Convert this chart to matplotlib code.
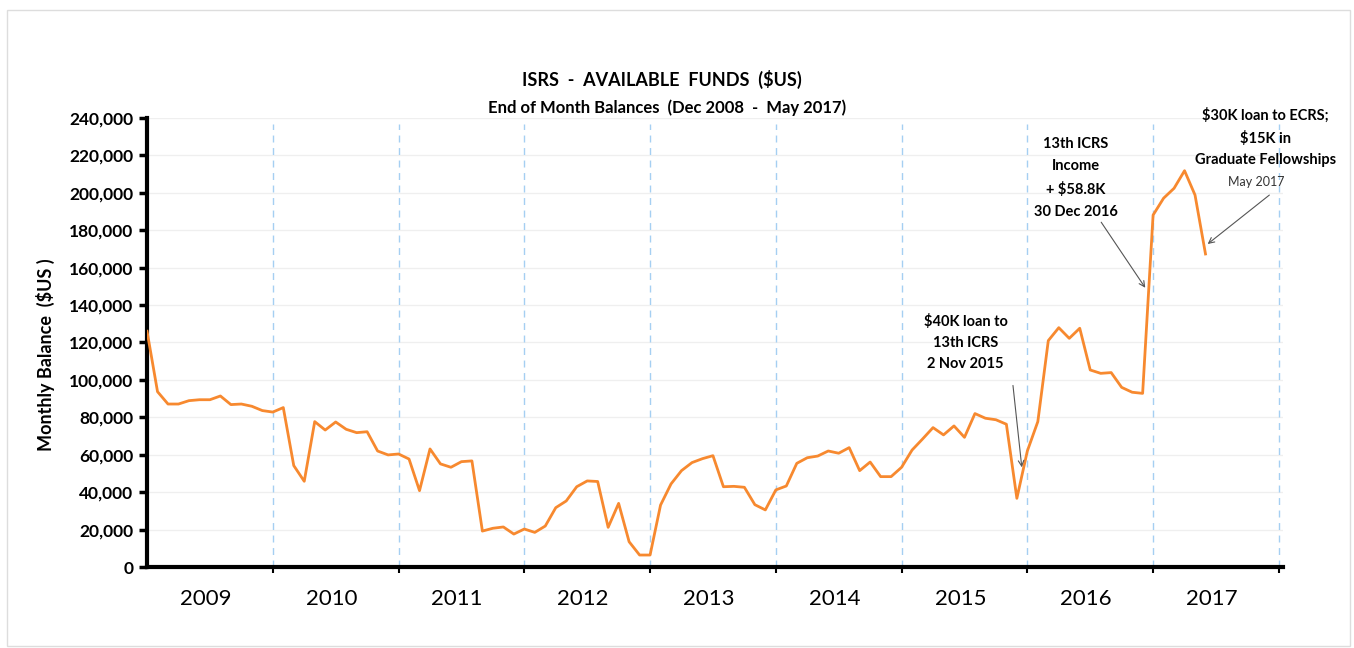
import numpy as np
import matplotlib
matplotlib.use("Agg")
import matplotlib.pyplot as plt
from matplotlib.patches import Rectangle

plt.rcParams['font.family'] = ['Lato', 'DejaVu Sans']

# End of month balances, Dec 2008 .. May 2017 (index 0 = Dec 2008)
balance = [
    126000, 93700, 87100, 87100, 88900, 89400, 89400, 91400, 86800, 87100, 85900, 83600,
    82800, 85200, 54200, 45800, 77700, 73200, 77500, 73600, 71800, 72300, 62000, 59900,
    60400, 57700, 40800, 63100, 55100, 53300, 56300, 56700, 19200, 20700, 21400, 17600,
    20300, 18500, 21900, 31700, 35300, 42900, 46000, 45700, 21200, 34000, 13500, 6400,
    6400, 33100, 44400, 51500, 55800, 57900, 59500, 42900, 43100, 42600, 33300, 30500,
    41200, 43300, 55400, 58400, 59300, 62000, 60800, 63800, 51500, 56100, 48300, 48300,
    53300, 62500, 68400, 74500, 70600, 75400, 69300, 82000, 79500, 78700, 76300, 36700,
    62000, 77700, 121000, 127900, 122200, 127600, 105300, 103500, 103900, 96000, 93400, 92800,
    188100, 197100, 202400, 211800, 198800, 167300,
]
years = ['2009', '2010', '2011', '2012', '2013', '2014', '2015', '2016', '2017']
y_ticks = list(range(0, 240001, 20000))

x = np.arange(len(balance))
dec_marks = [12 * (i + 1) for i in range(len(years))]
year_pos = [12 * i + 5.6 for i in range(len(years))]

fig = plt.figure(figsize=(13.54, 6.48), dpi=100)
ax = fig.add_axes([0.1086, 0.125, 0.839, 0.693])

# light horizontal grid + dashed year separators
for v in y_ticks[1:]:
    ax.axhline(v, color='#EFEFEF', lw=0.9, zorder=0)
for d in dec_marks:
    ax.plot([d, d], [0, 237000], color='#A5CFF2', lw=1.0, ls=(0, (5, 4)), zorder=1)

ax.plot(x, balance, color='#F7892F', lw=2.0, zorder=3)

ax.set_xlim(0, 108.4)
ax.set_ylim(0, 240000)
ax.set_yticks(y_ticks)
ax.set_yticklabels([f'{v:,}' for v in y_ticks], fontweight='bold', fontsize=12.5)
ax.set_xticks(dec_marks)
ax.set_xticklabels([])
ax.set_xticks(year_pos, minor=True)
ax.set_xticklabels(years, minor=True, fontsize=16)
ax.tick_params(axis='x', which='major', length=4, width=1.5, direction='out')
ax.tick_params(axis='x', which='minor', length=0, pad=16)
ax.tick_params(axis='y', length=6, width=2.5, direction='out', pad=4)

for s in ['top', 'right']:
    ax.spines[s].set_visible(False)
ax.spines['left'].set_linewidth(3)
ax.spines['bottom'].set_linewidth(3)

ax.set_ylabel('Monthly Balance  ($US )', fontweight='bold', fontsize=13)
ax.yaxis.set_label_coords(-0.081, 0.472)

fig.text(0.489, 0.877, 'ISRS  -  AVAILABLE  FUNDS  ($US)', ha='center', va='center',
         fontweight='bold', fontsize=13)
fig.text(0.493, 0.833, 'End of Month Balances  (Dec 2008  -  May 2017)', ha='center',
         va='center', fontweight='bold', fontsize=12)

arrow = dict(arrowstyle='->', color='#555555', lw=0.8)
ax.annotate('', xy=(83.5, 51800), xytext=(82.6, 98500), arrowprops=arrow)
ax.text(78.1, 120000, '$40K loan to\n13th ICRS\n2 Nov 2015', ha='center', va='center',
        fontweight='bold', fontsize=10.5, linespacing=1.65)

ax.annotate('', xy=(95.4, 148000), xytext=(90.9, 185500), arrowprops=arrow)
ax.text(88.6, 208000, '13th ICRS\nIncome\n+ $58.8K\n30 Dec 2016', ha='center', va='center',
        fontweight='bold', fontsize=10.5, linespacing=1.75)

ax.annotate('', xy=(101.0, 171700), xytext=(107.3, 199700), arrowprops=arrow)
ax.text(106.7, 229500, '$30K loan to ECRS;\n$15K in\nGraduate Fellowships', ha='center',
        va='center', fontweight='bold', fontsize=10.5, linespacing=1.65, clip_on=False)
ax.text(105.8, 205500, 'May 2017', ha='center', va='center', fontsize=9, color='#333333')

fig.patches.append(Rectangle((0.005, 0.003), 0.992, 0.982, transform=fig.transFigure,
                             fill=False, edgecolor='#DDDDDD', lw=1))

fig.savefig('out.png', dpi=100)
